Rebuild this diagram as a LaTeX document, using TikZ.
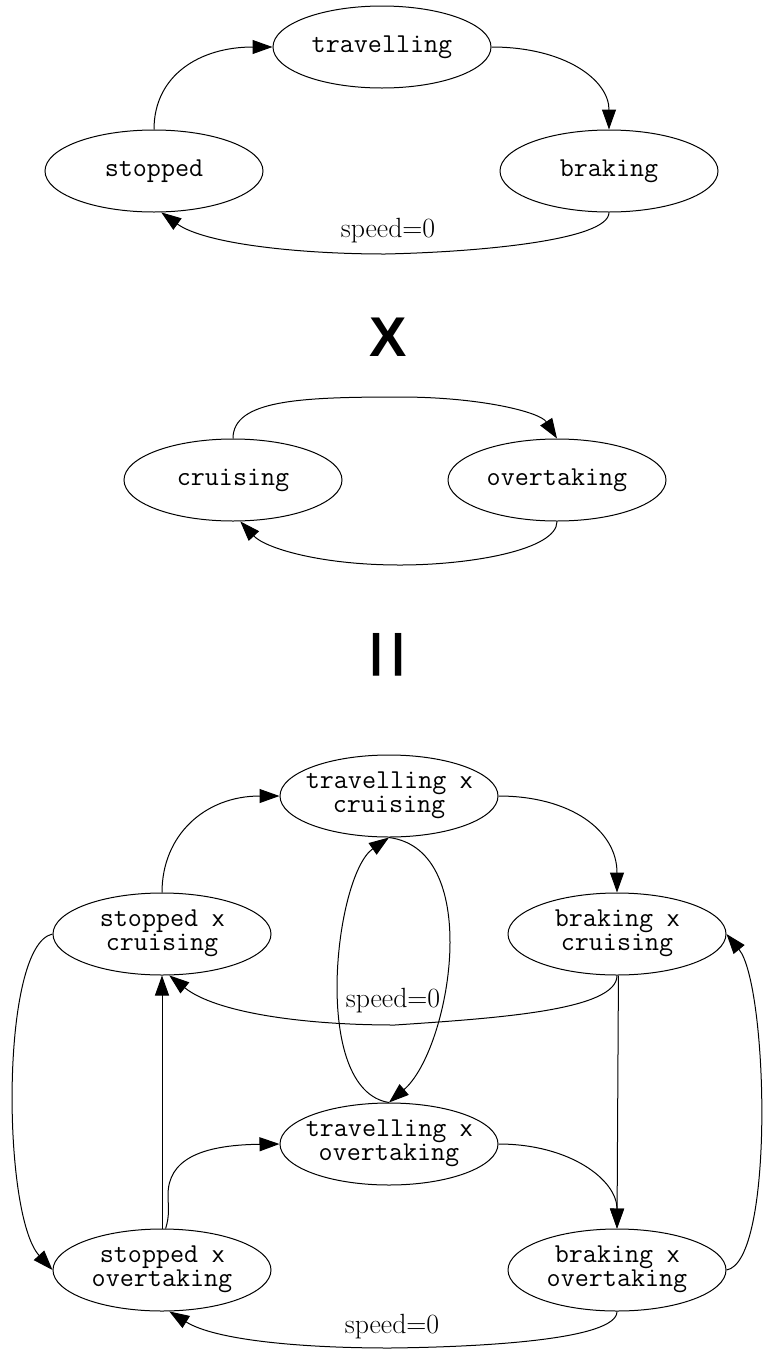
\documentclass[tikz,border=0pt]{standalone}
\usepackage{fontspec}
\newfontfamily\lsans{Liberation Sans}
\usetikzlibrary{shapes.geometric,arrows.meta}
\newcommand\stlabel[1]{\makebox[120pt][c]{\begin{tabular}{@{}c@{}}#1\end{tabular}}}
\newcommand\xsep{\textsf{x}}
\begin{document}
\begin{tikzpicture}[x=1pt,y=-1pt,
  st/.style={ellipse,draw,line width=1pt,minimum width=218pt,minimum height=82pt,inner sep=0pt,font=\fontsize{27.3}{24}\selectfont\ttfamily},
  ed/.style={-{Triangle[length=20pt,width=14pt]},line width=1pt},
  lb/.style={font=\fontsize{27.8}{28}\selectfont\rmfamily,inner sep=0pt},
  big/.style={inner sep=0pt}]
\useasboundingbox (0,0) rectangle (763,1350);
% top: first automaton
\node[st] (t1) at (382,47) {travelling};
\node[st] (s1) at (154,171) {stopped};
\node[st] (b1) at (609,171) {braking};
\draw[ed] (s1.north) .. controls (154,75) and (200,47) .. (t1.west);
\draw[ed] (t1.east) .. controls (565,47) and (609,80) .. (b1.north);
\draw[ed] (b1.south) .. controls (609,240) and (480,252) .. (385,254) .. controls (300,254) and (205,244) .. (s1.-80);
\node[lb] (l1) at (388,231) {speed=0};
% X
\node[big] (X) at (388,337) {\lsans\bfseries\fontsize{56}{56}\selectfont X};
% middle: second automaton
\node[st] (c2) at (233,480) {cruising};
\node[st] (o2) at (557,480) {overtaking};
\draw[ed] (c2.north) .. controls (233,400) and (300,397) .. (400,397) .. controls (480,397) and (540,412) .. (o2.north);
\draw[ed] (o2.south) .. controls (557,550) and (470,565) .. (400,565) .. controls (320,565) and (265,548) .. (c2.-80);
% equals
\node[big,rotate=90] (eq) at (395,655) {\lsans\fontsize{88}{88}\selectfont =};
% bottom: product
\node[st] (tc) at (389,796) {\stlabel{travelling \xsep\\cruising}};
\node[st] (sc) at (162,934) {\stlabel{stopped \xsep\\cruising}};
\node[st] (bc) at (617,934) {\stlabel{braking \xsep\\cruising}};
\node[st] (to) at (389,1144) {\stlabel{travelling \xsep\\overtaking}};
\node[st] (so) at (162,1270) {\stlabel{stopped \xsep\\overtaking}};
\node[st] (bo) at (617,1270) {\stlabel{braking \xsep\\overtaking}};
\draw[ed] (sc.north) .. controls (162,835) and (205,796) .. (tc.west);
\draw[ed] (tc.east) .. controls (570,796) and (617,830) .. (bc.north);
\draw[ed] (to.north) .. controls (310,1090) and (335,875) .. (tc.south);
\draw[ed] (tc.south) .. controls (485,850) and (450,1050) .. (to.north);
\draw[ed] (bc.south) .. controls (617,1010) and (500,1018) .. (395,1025) .. controls (300,1025) and (215,1012) .. (sc.-80);
\node[lb] (l2) at (393,1001) {speed=0};
\draw[ed] (bc.-88) -- (bo.north);
\draw[ed] (bo.east) .. controls (775,1262) and (768,985) .. (bc.east);
\draw[ed] (sc.west) .. controls (0,945) and (2,1215) .. (so.west);
\draw[ed] (so.north) -- (sc.south);
\draw[ed] (so.85) .. controls (170,1215) and (168,1205) .. (168,1195) .. controls (168,1160) and (200,1145) .. (to.west);
\draw[ed] (to.east) .. controls (570,1144) and (617,1180) .. (bo.north);
\draw[ed] (bo.south) .. controls (617,1340) and (480,1347) .. (390,1348) .. controls (300,1348) and (215,1340) .. (so.-80);
\node[lb] (l3) at (392,1327) {speed=0};
\end{tikzpicture}
\end{document}
